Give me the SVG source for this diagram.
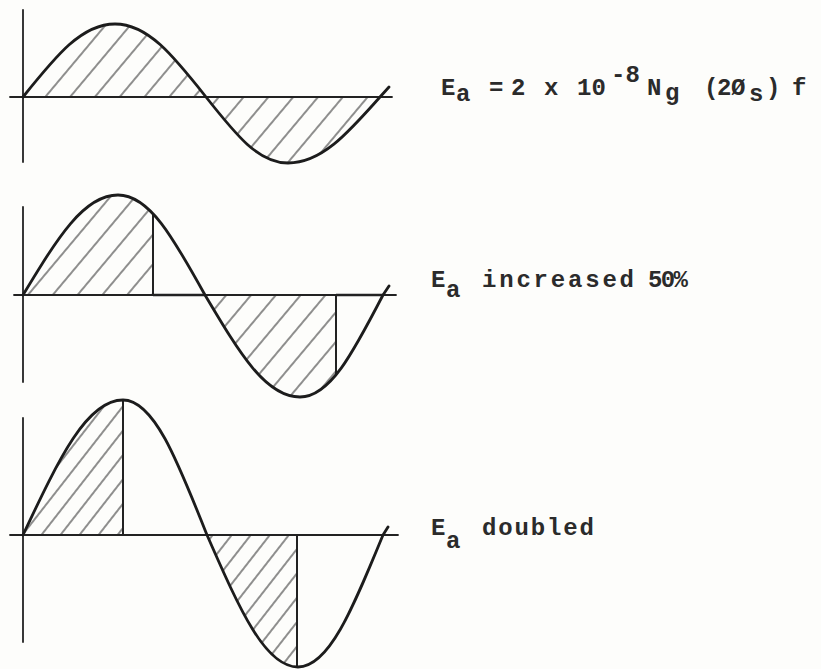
<svg xmlns="http://www.w3.org/2000/svg" width="821" height="669" viewBox="0 0 821 669">
<style>
.axis{stroke:#222;stroke-width:1.8;fill:none;stroke-linecap:round}
.curve{stroke:#1c1c1c;stroke-width:2.8;fill:none;stroke-linecap:round;stroke-linejoin:round}
.cut{stroke:#222;stroke-width:2;fill:none}
.thick{stroke:#222;stroke-width:2.6;fill:none}
.t{font-family:"Liberation Mono","DejaVu Sans Mono",monospace;font-size:24px;font-weight:bold;fill:#2b2b2b}
</style>
<defs>
<pattern id="hatch" patternUnits="userSpaceOnUse" width="19" height="19" patternTransform="rotate(40)">
<line x1="2" y1="0" x2="2" y2="19" stroke="#333" stroke-width="1.1"/>
</pattern>
<pattern id="hatch3" patternUnits="userSpaceOnUse" width="15" height="15" patternTransform="rotate(38)">
<line x1="2" y1="0" x2="2" y2="15" stroke="#333" stroke-width="1.1"/>
</pattern>
<clipPath id="c2a"><rect x="23" y="150" width="130" height="150"/></clipPath>
<clipPath id="c2b"><rect x="205" y="290" width="131" height="120"/></clipPath>
<clipPath id="c3a"><rect x="23" y="390" width="100" height="150"/></clipPath>
<clipPath id="c3b"><rect x="207" y="530" width="90" height="140"/></clipPath>
</defs>
<rect width="821" height="669" fill="#fdfdfb"/>

<g id="plot1">
<path d="M23,97 C56.5,55.2 81.8,24 115,24 C147.8,24 172.9,55.2 206,97 Z" fill="url(#hatch)"/>
<path d="M206,97 C235.9,134.8 258.4,163 288,163 C321.2,163 346.5,134.8 380,97 Z" fill="url(#hatch)"/>
<line class="axis" x1="23" y1="10" x2="23" y2="162"/>
<line class="axis" x1="10" y1="97" x2="392" y2="97"/>
<path class="curve" d="M23,97 C56.5,55.2 81.8,24 115,24 C147.8,24 172.9,55.2 206,97 C235.9,134.8 258.4,163 288,163 C321.2,163 346.5,134.8 380,97 L389,87"/>
</g>

<g id="plot2">
<path clip-path="url(#c2a)" d="M23,295 C57.6,237.8 83.7,195 118,195 C149.4,195 173.3,237.8 205,295 Z" fill="url(#hatch)"/>
<path clip-path="url(#c2b)" d="M205,295 C239.6,353.3 265.7,397 300,397 C329.9,397 352.8,353.3 383,295 Z" fill="url(#hatch)"/>
<line class="axis" x1="23" y1="207" x2="23" y2="382"/>
<line class="axis" x1="14" y1="295" x2="396" y2="295"/>
<line class="thick" x1="153" y1="295" x2="205" y2="295"/>
<line class="thick" x1="336" y1="295" x2="383" y2="295"/>
<line class="cut" x1="153" y1="214" x2="153" y2="296"/>
<line class="cut" x1="336" y1="294" x2="336" y2="374"/>
<path class="curve" d="M23,295 C57.6,237.8 83.7,195 118,195 C149.4,195 173.3,237.8 205,295 C239.6,353.3 265.7,397 300,397 C329.9,397 352.8,353.3 383,295 L389,286"/>
</g>

<g id="plot3">
<path clip-path="url(#c3a)" d="M23,535 C59.4,457.8 86.9,400 123,400 C153.3,400 176.4,457.8 207,535 Z" fill="url(#hatch3)"/>
<path clip-path="url(#c3b)" d="M207,535 C240.1,610.5 265.2,667 298,667 C328.7,667 352,610.5 383,535 Z" fill="url(#hatch3)"/>
<line class="axis" x1="23" y1="418" x2="23" y2="642"/>
<line class="axis" x1="10" y1="535" x2="398" y2="535"/>
<line class="cut" x1="123" y1="400" x2="123" y2="536"/>
<line class="cut" x1="297" y1="534" x2="297" y2="667"/>
<path class="curve" d="M23,535 C59.4,457.8 86.9,400 123,400 C153.3,400 176.4,457.8 207,535 C240.1,610.5 265.2,667 298,667 C328.7,667 352,610.5 383,535 L388,527"/>
</g>

<g id="label1" class="t">
<text x="441" y="95">E</text>
<text x="456" y="101">a</text>
<text x="489" y="95">=</text>
<text x="511" y="95">2</text>
<text x="544" y="95">x</text>
<text x="577" y="95">10</text>
<text x="611" y="82">-8</text>
<text x="647" y="95">N</text>
<text x="665" y="100">g</text>
<text x="704" y="95">(</text>
<text x="717" y="95">2</text>
<text x="731" y="95">Ø</text>
<text x="749" y="101">s</text>
<text x="766" y="95">)</text>
<text x="792" y="95">f</text>
</g>

<g id="label2" class="t">
<text x="431" y="287">E</text>
<text x="446" y="297">a</text>
<text x="482" y="287" textLength="152" lengthAdjust="spacing">increased</text>
<text x="648" y="287" textLength="40" lengthAdjust="spacing">50%</text>
</g>

<g id="label3" class="t">
<text x="431" y="535">E</text>
<text x="446" y="548">a</text>
<text x="482" y="535" textLength="112" lengthAdjust="spacing">doubled</text>
</g>
</svg>
